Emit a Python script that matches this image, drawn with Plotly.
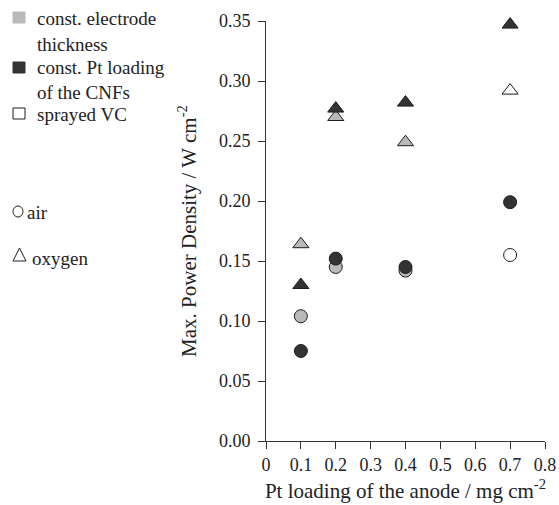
import plotly.graph_objects as go

# Data
x_loading = [0.1, 0.2, 0.4]
x_sprayed = [0.7]

thick_air = [0.104, 0.145, 0.142]
thick_oxy = [0.164, 0.270, 0.249]
cnf_x = [0.1, 0.2, 0.4, 0.7]
cnf_air = [0.075, 0.152, 0.145, 0.199]
cnf_oxy = [0.130, 0.277, 0.282, 0.347]
vc_air = [0.155]
vc_oxy = [0.292]

LIGHT = "#b9b9b9"
DARK = "#333333"
EDGE = "#1e1e1e"
FONT = "Liberation Serif, Times New Roman, serif"

fig = go.Figure()

def add(x, y, sym, color):
    fig.add_trace(go.Scatter(
        x=x, y=y, mode="markers", cliponaxis=False, showlegend=False,
        marker=dict(symbol=sym, size=13 if sym == "circle" else 14, color=color,
                    line=dict(color=EDGE, width=1))))

add(x_loading, thick_oxy, "triangle-up", LIGHT)
add(cnf_x, cnf_oxy, "triangle-up", DARK)
add(x_sprayed, vc_oxy, "triangle-up", "white")
add(x_loading, thick_air, "circle", LIGHT)
add(cnf_x, cnf_air, "circle", DARK)
add(x_sprayed, vc_air, "circle", "white")

# plot area pixel geometry
L, R, T, B = 266, 545, 21, 441
W, H = 559, 505

def px(xp):
    return (xp - L) / (R - L)

def py(yp):
    return (B - yp) / (B - T)

shapes = []
def rect(x0, y0, x1, y1, fill):
    shapes.append(dict(type="rect", xref="paper", yref="paper",
                       x0=px(x0), x1=px(x1), y0=py(y0), y1=py(y1),
                       fillcolor=fill, line=dict(color=EDGE if fill == "white" else fill, width=1)))

rect(13, 12, 25, 23, LIGHT)
rect(13, 62, 25, 73, DARK)
rect(13, 108, 25, 119, "white")
shapes.append(dict(type="circle", xref="paper", yref="paper",
                   x0=px(13), x1=px(23), y0=py(206), y1=py(217),
                   line=dict(color=EDGE, width=1)))
tri = "M {} {} L {} {} L {} {} Z".format(px(13), py(261), px(26), py(261), px(19.5), py(248))
shapes.append(dict(type="path", xref="paper", yref="paper", path=tri,
                   line=dict(color=EDGE, width=1)))

annotations = []
def label(text, xp, yp):
    annotations.append(dict(text=text, xref="paper", yref="paper", x=px(xp), y=py(yp),
                            xanchor="left", yanchor="middle", showarrow=False,
                            xshift=-2,
                            font=dict(family=FONT, size=19, color="#222")))

label("const. electrode", 37, 18)
label("thickness", 37, 44)
label("const. Pt loading", 37, 67)
label("of the CNFs", 37, 93)
label("sprayed VC", 37, 114)
label("air", 27, 212)
label("oxygen", 32, 258)

fig.update_layout(
    width=W, height=H,
    margin=dict(l=L, r=W - R, t=T, b=H - B, autoexpand=False),
    paper_bgcolor="white", plot_bgcolor="white",
    font=dict(family=FONT, size=18, color="#222"),
    shapes=shapes, annotations=annotations,
    xaxis=dict(range=[0, 0.8], tickvals=[0, 0.1, 0.2, 0.3, 0.4, 0.5, 0.6, 0.7, 0.8],
               ticktext=["0", "0.1", "0.2", "0.3", "0.4", "0.5", "0.6", "0.7", "0.8"],
               automargin=False,
               showgrid=False, zeroline=False, showline=True, linecolor="#333", linewidth=1,
               ticks="outside", ticklen=7, tickcolor="#333", ticklabelstandoff=0,
               tickfont=dict(size=18),
               title=dict(text="Pt loading of the anode / mg cm<sup>-2</sup>", standoff=9,
                          font=dict(size=21))),
    yaxis=dict(range=[0, 0.35], tickvals=[0, 0.05, 0.1, 0.15, 0.2, 0.25, 0.3, 0.35],
               tickformat=".2f", automargin=False,
               showgrid=False, zeroline=False, showline=True, linecolor="#333", linewidth=1,
               ticks="outside", ticklen=7, tickcolor="#333", ticklabelstandoff=4,
               tickfont=dict(size=18),
               title=dict(text="Max. Power Density / W cm<sup>-2</sup>", standoff=16,
                          font=dict(size=21))),
)

fig.write_html("out.html", config={"displayModeBar": False},
               post_script="document.body.style.margin='0';document.body.style.overflow='hidden';")
